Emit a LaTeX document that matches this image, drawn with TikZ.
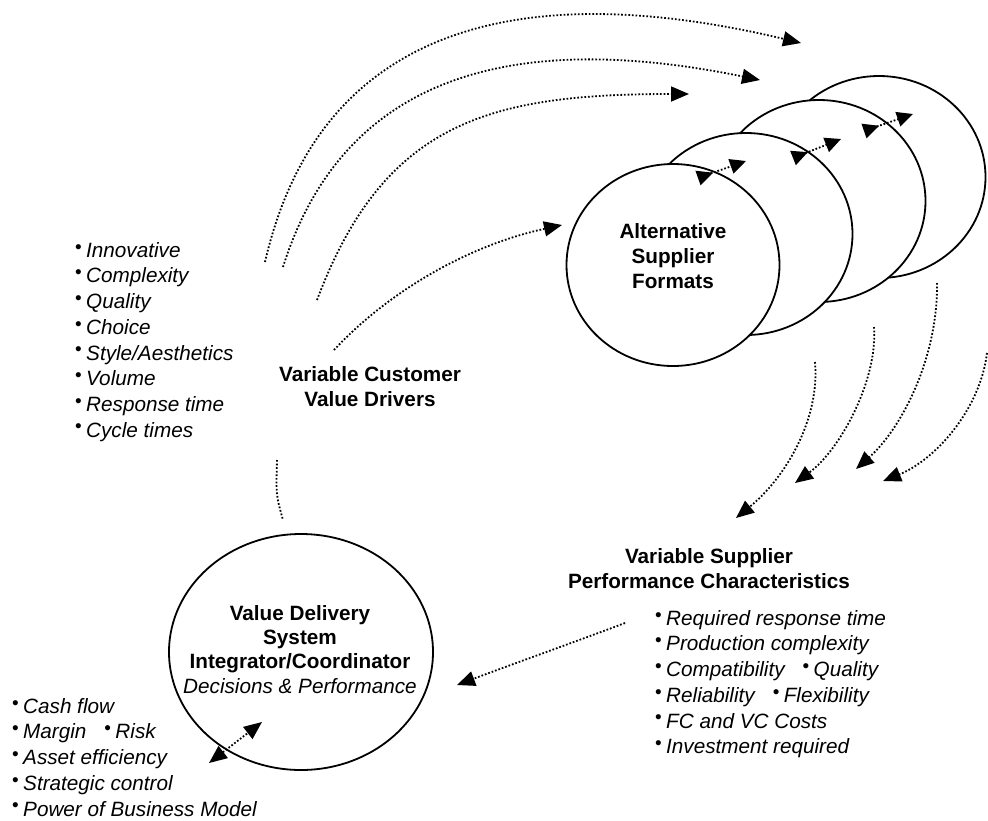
\documentclass[tikz,border=0pt]{standalone}
\usepackage{fontspec}
\setmainfont{Liberation Sans}
\usetikzlibrary{arrows.meta,shapes.geometric,matrix,positioning}

\newcommand{\bul}{\makebox[11pt][l]{\raisebox{4.2pt}{\fontsize{19}{19}\selectfont\upshape\textbullet}}}
\newcommand{\gap}{\hspace{18pt}}

\begin{document}
\begin{tikzpicture}[
x=1pt, y=1pt,
font=\fontsize{20.7}{24.5}\selectfont,
format/.style={ellipse, draw=black, line width=1.8pt, fill=white,
    minimum width=213pt, minimum height=202pt},
title/.style={align=center, inner sep=0pt, anchor=north,
    font=\fontsize{20.7}{25}\selectfont\bfseries},
list/.style={
    matrix of nodes,
    anchor=north west,
    inner sep=0pt,
    nodes={anchor=base west, inner sep=0pt, text height=15pt, text depth=4pt,
        font=\fontsize{20.7}{25}\selectfont\itshape},
    row sep=6.7pt,
},
dots/.style={line width=1.8pt, dash pattern=on 1.7pt off 1.9pt},
link/.style={dots, -{Triangle[length=18pt, width=15pt]}},
both/.style={dots, {Triangle[length=18pt, width=15pt]}-{Triangle[length=18pt, width=15pt]}},
chain/.style={dots, {Triangle[reversed, length=16pt, width=15pt]}-{Triangle[length=16pt, width=15pt]}},
]

\useasboundingbox (0,0) rectangle (988,-820);

% supplier formats, back to front
\node[format] (alt4) at (879,-177) {};
\node[format] (alt3) at (819,-201) {};
\node[format] (alt2) at (746,-234) {};
\node[format] (alt1) at (673,-265) {};
\node[title] (altT) at (673,-223) {Alternative\\Supplier\\Formats};

% integrator
\node[format, minimum width=264pt, minimum height=236pt] (vds) at (301,-652) {};
\node[title, font=\fontsize{20.7}{24.3}\selectfont\bfseries] (vdsT) at (300,-605)
    {Value Delivery\\System\\Integrator/Coordinator\\{\mdseries\itshape Decisions \& Performance}};

\node[title] (drvT) at (370,-366) {Variable Customer\\Value Drivers};
\node[title] (supT) at (709,-548) {Variable Supplier\\Performance Characteristics};

\matrix[list] (drivers) at (75,-242) {
  \bul Innovative\\
  \bul Complexity\\
  \bul Quality\\
  \bul Choice\\
  \bul Style/Aesthetics\\
  \bul Volume\\
  \bul Response time\\
  \bul Cycle times\\
};

\matrix[list] (perf) at (655,-610) {
  \bul Required response time\\
  \bul Production complexity\\
  \bul Compatibility\gap\bul Quality\\
  \bul Reliability\gap\bul Flexibility\\
  \bul FC and VC Costs\\
  \bul Investment required\\
};

\matrix[list] (results) at (12,-698) {
  \bul Cash flow\\
  \bul Margin\gap\bul Risk\\
  \bul Asset efficiency\\
  \bul Strategic control\\
  \bul Power of Business Model\\
};

% customer drivers -> formats
\coordinate (c1) at (265,-262);
\coordinate (c2) at (283,-267);
\coordinate (c3) at (317,-300);
\coordinate (c4) at (334,-350);
\coordinate (f1) at (801,-43);
\coordinate (f2) at (760,-80);
\coordinate (f3) at (689,-94);
\coordinate (f4) at (562,-225);
\draw[link] (c1) .. controls (320,-23) and (524,23) .. (f1);
\draw[link] (c2) .. controls (346,-67) and (525,-32) .. (f2);
\draw[link] (c3) .. controls (384,-122) and (489,-94) .. (f3);
\draw[link] (c4) .. controls (390,-290) and (470,-245) .. (f4);

% between formats
\coordinate (s1) at (698,-178);
\coordinate (e1) at (746,-161);
\coordinate (s2) at (793,-158);
\coordinate (e2) at (841,-139);
\coordinate (s3) at (864,-131);
\coordinate (e3) at (913,-114);
\draw[chain] (s1) -- (e1);
\draw[chain] (s2) -- (e2);
\draw[chain] (s3) -- (e3);

% formats -> supplier characteristics
\coordinate (g1) at (815,-362);
\coordinate (g2) at (874,-327);
\coordinate (g3) at (937,-283);
\coordinate (g4) at (987,-353);
\coordinate (h1) at (736,-518);
\coordinate (h2) at (795,-483);
\coordinate (h3) at (856,-469);
\coordinate (h4) at (883,-481);
\draw[link] (g1) .. controls (820,-420) and (785,-478) .. (h1);
\draw[link] (g2) .. controls (878,-380) and (840,-450) .. (h2);
\draw[link] (g3) .. controls (938,-360) and (900,-430) .. (h3);
\draw[link] (g4) .. controls (980,-410) and (935,-460) .. (h4);

% supplier characteristics -> integrator
\coordinate (p1) at (625,-623);
\coordinate (p2) at (457,-685);
\draw[link] (p1) .. controls (580,-640) and (510,-665) .. (p2);

% drivers -- integrator
\coordinate (d1) at (277,-460);
\coordinate (d2) at (283,-520);
\draw[dots] (d1) .. controls (276,-495) .. (d2);

% integrator <-> results
\coordinate (r1) at (209,-763);
\coordinate (r2) at (262,-722);
\draw[both] (r1) -- (r2);

\end{tikzpicture}
\end{document}
